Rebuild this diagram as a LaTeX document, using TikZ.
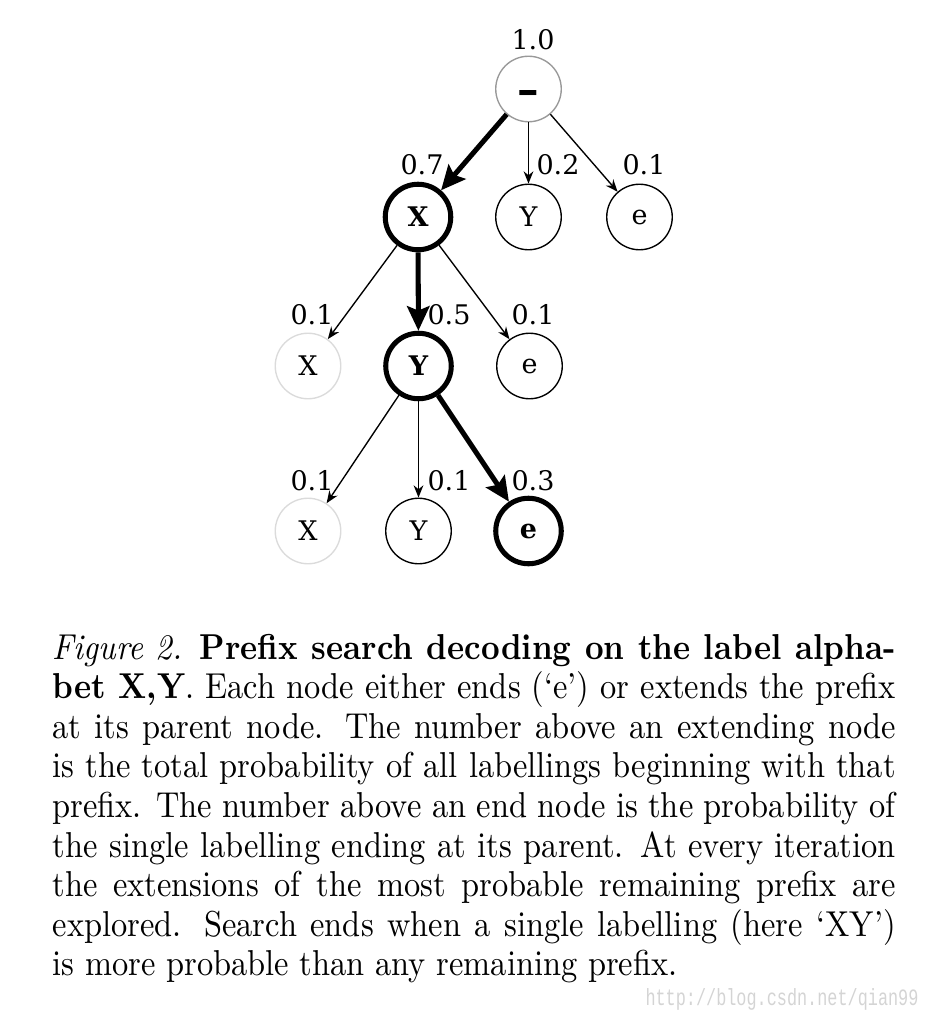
\documentclass[tikz,border=0pt]{standalone}
\usepackage{fontspec}
\newfontfamily\treefont{DejaVu Serif}
\newfontfamily\wmfont{Liberation Mono}
\usetikzlibrary{arrows.meta}
\begin{document}
\begin{tikzpicture}[x=0.27778pt,y=-0.27778pt,
  tnode/.style={circle, draw, line width=0.38pt, minimum size=18.2pt, inner sep=0pt,
    font=\treefont\fontsize{7.5}{9}\selectfont},
  best/.style={line width=1.4pt, font=\treefont\bfseries\fontsize{7.5}{9}\selectfont},
  faint/.style={draw=black!14},
  rootc/.style={draw=black!40},
  prob/.style={inner sep=0pt, font=\treefont\fontsize{7.5}{9}\selectfont},
  arr/.style={-{Stealth[length=3.4pt,width=2.7pt]}, line width=0.38pt},
  barr/.style={-{Stealth[length=6.8pt,width=6.2pt,inset=1.2pt]}, line width=1.4pt}
]
\useasboundingbox (0,0) rectangle (930,1018);
% nodes
\node[tnode, rootc, text height=8.6pt, text depth=0pt, font=\treefont\bfseries\fontsize{12}{12}\selectfont] (r) at (528.5,89) {–};
\node[tnode, best] (x1) at (418,217) {X};
\node[tnode] (y1) at (528.5,217) {Y};
\node[tnode] (e1) at (639.5,217) {e};
\node[tnode, faint] (x2) at (308,366) {X};
\node[tnode, best] (y2) at (418.5,366) {Y};
\node[tnode] (e2) at (529.5,366) {e};
\node[tnode, faint] (x3) at (308,531) {X};
\node[tnode] (y3) at (418.5,531) {Y};
\node[tnode, best] (e3) at (528.5,531) {e};
% probabilities
\node[prob] (pr) at (533,40) {1.0};
\node[prob] (px1) at (422,165) {0.7};
\node[prob] (py1) at (558,165) {0.2};
\node[prob] (pe1) at (644,165) {0.1};
\node[prob] (px2) at (312,315) {0.1};
\node[prob] (py2) at (449,315) {0.5};
\node[prob] (pe2) at (533,315) {0.1};
\node[prob] (px3) at (312,481) {0.1};
\node[prob] (py3) at (449,481) {0.1};
\node[prob] (pe3) at (533,481) {0.3};
% edges
\draw[barr] (r) -- (x1);
\draw[arr] (r) -- (y1);
\draw[arr] (r) -- (e1);
\draw[arr] (x1) -- (x2);
\draw[barr] (x1) -- (y2);
\draw[arr] (x1) -- (e2);
\draw[arr] (y2) -- (x3);
\draw[arr] (y2) -- (y3);
\draw[barr] (y2) -- (e3);
% caption
\node[inner sep=0pt, anchor=base west, xscale=0.9008] (cap) at (52,659) {\parbox[t]{260pt}{\fontsize{10}{11}\selectfont
\textit{Figure 2.} \textbf{Prefix search decoding on the label alpha-\linebreak bet X,Y}. Each node either ends (`e') or extends the prefix\linebreak at its parent node. The number above an extending node\linebreak is the total probability of all labellings beginning with that\linebreak prefix. The number above an end node is the probability of\linebreak the single labelling ending at its parent. At every iteration\linebreak the extensions of the most probable remaining prefix are\linebreak explored. Search ends when a single labelling (here `XY')\linebreak is more probable than any remaining prefix.}};
% watermark
\node[inner sep=0pt, anchor=base east, xscale=0.72, text=black!17, font=\wmfont\fontsize{6.5}{7}\selectfont] (wm) at (919,1005) {http://blog.csdn.net/qian99};
\end{tikzpicture}
\end{document}
